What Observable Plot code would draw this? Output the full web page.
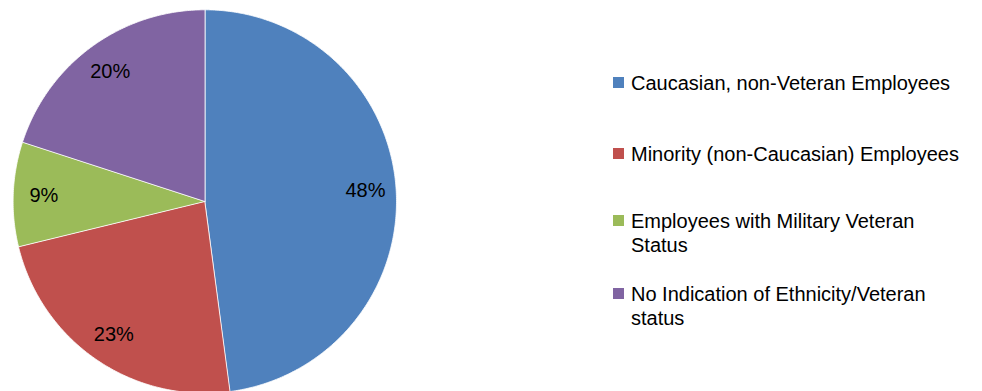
<!DOCTYPE html>
<html>
<head>
<meta charset="utf-8">
<script src="https://cdn.jsdelivr.net/npm/d3@7"></script>
<script src="https://cdn.jsdelivr.net/npm/@observablehq/plot@0.6"></script>
<style>
  html, body { margin: 0; padding: 0; background: #fff; }
  #wrap { position: relative; width: 982px; height: 391px; overflow: hidden; font-family: "Liberation Sans", Arial, sans-serif; }
  #chart { position: absolute; left: 0; top: 0; }
  .item { position: absolute; left: 613px; width: 360px; }
  .sw { position: absolute; left: 0; width: 11px; height: 11px; }
  .lab { position: absolute; left: 18px; width: 335px; font-size: 20px; line-height: 24px; color: #000; }
</style>
</head>
<body>
<div id="wrap"><div id="chart"></div></div>
<script>
const categories = [
  "Caucasian, non-Veteran Employees",
  "Minority (non-Caucasian) Employees",
  "Employees with Military Veteran Status",
  "No Indication of Ethnicity/Veteran status"
];
const values = [47.9, 23.3, 8.8, 20.0];
const labels = ["48%", "23%", "9%", "20%"];
const colors = ["#4F81BD", "#C0504D", "#9BBB59", "#8064A2"];

const arcs = d3.pie().sort(null)(values);
const points = [];
arcs.forEach((a, i) => {
  const cat = categories[i];
  points.push({cat, x: 0, y: 0});
  const n = Math.max(2, Math.ceil((a.endAngle - a.startAngle) / 0.01));
  for (let k = 0; k <= n; k++) {
    const t = a.startAngle + (a.endAngle - a.startAngle) * k / n;
    points.push({cat, x: Math.sin(t), y: Math.cos(t)});
  }
});
const labelR = 0.84;
const labelData = arcs.map((a, i) => {
  const m = (a.startAngle + a.endAngle) / 2;
  return {text: labels[i], x: labelR * Math.sin(m), y: labelR * Math.cos(m)};
});

const cx = 204.3, cy = 201, R = 191.7;
const chart = Plot.plot({
  width: 982,
  height: 391,
  margin: 0,
  axis: null,
  style: {background: "transparent", overflow: "visible"},
  x: {domain: [-1, 1], range: [cx - R, cx + R]},
  y: {domain: [-1, 1], range: [cy + R, cy - R]},
  color: {domain: categories, range: colors},
  marks: [
    Plot.line(points, {x: "x", y: "y", z: "cat", fill: "cat", stroke: "white", strokeWidth: 1, strokeOpacity: 0.8, curve: "linear-closed"}),
    Plot.text(labelData, {x: "x", y: "y", text: "text", fontSize: 20, fontFamily: "Liberation Sans", fill: "#000"})
  ]
});
document.getElementById("chart").appendChild(chart);

// legend (layout only)
const baselines = [90, 160.5, 228, 301];
const wrap = document.getElementById("wrap");
categories.forEach((c, i) => {
  const it = document.createElement("div");
  it.className = "item";
  it.style.top = (baselines[i] - 19) + "px";
  const sw = document.createElement("div");
  sw.className = "sw";
  sw.style.background = colors[i];
  sw.style.top = (19 - 12.7) + "px";
  const lab = document.createElement("div");
  lab.className = "lab";
  lab.textContent = c;
  it.appendChild(sw);
  it.appendChild(lab);
  wrap.appendChild(it);
});
</script>
</body>
</html>
